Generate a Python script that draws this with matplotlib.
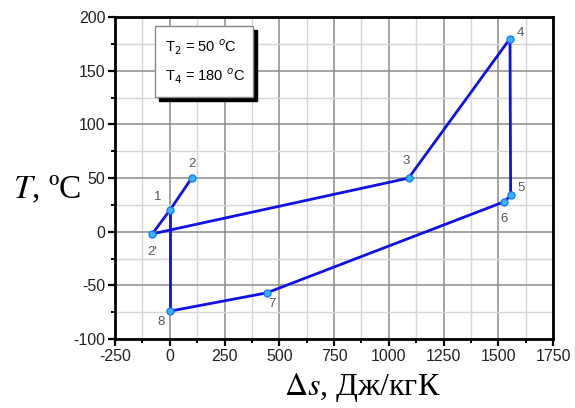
import matplotlib
matplotlib.use('Agg')
import matplotlib.pyplot as plt
from matplotlib.patches import Rectangle
from matplotlib.ticker import MultipleLocator

plt.rcParams['axes.unicode_minus'] = False

# точки цикла (Δs, Дж/кгК ; T, °C)
ds = [100, 0, -80, 1090, 1553, 1556, 1527, 442, 0, 0]
temp = [50, 20, -2, 50, 180, 34, 28, -57, -74, 20]
point_names = ['2', '1', "2'", '3', '4', '5', '6', '7', '8']
# смещения подписей в пикселях
label_offsets = [(0, 14), (-12, 13), (0, -18), (-2, 17), (10, 6), (10, 7), (0, -17), (5, -11), (-9, -11)]

xticks = [-250, 0, 250, 500, 750, 1000, 1250, 1500, 1750]
yticks = [-100, -50, 0, 50, 100, 150, 200]

fig = plt.figure(figsize=(5.75, 4.08), dpi=100)
ax = fig.add_axes([0.2, 0.169, 0.762, 0.789])

ax.set_xlim(-250, 1750)
ax.set_ylim(-100, 200)
ax.xaxis.set_major_locator(MultipleLocator(250))
ax.xaxis.set_minor_locator(MultipleLocator(125))
ax.yaxis.set_major_locator(MultipleLocator(50))
ax.yaxis.set_minor_locator(MultipleLocator(25))
ax.set_xticks(xticks)
ax.set_yticks(yticks)
ax.grid(True, which='major', color='#8c8c8c', linewidth=1.1)
ax.grid(True, which='minor', color='#d6d6d6', linewidth=1.0)
ax.set_axisbelow(True)

for sp in ax.spines.values():
    sp.set_linewidth(2.0)
ax.tick_params(which='major', direction='out', length=5, width=1.6, labelsize=11.5,
               labelcolor='#222222', top=False, right=False, pad=2)
ax.tick_params(which='minor', direction='out', length=3, width=1.4, top=False, right=False)
for lab in ax.get_xticklabels() + ax.get_yticklabels():
    lab.set_fontfamily('Liberation Sans')

# линия цикла
ax.plot(ds[:-1], temp[:-1], color='#1010e8', linewidth=2.0, zorder=3)
ax.plot([ds[-2], ds[-1]], [temp[-2], temp[-1]], color='#1010e8', linewidth=2.0, zorder=3)
ax.plot(ds[:-1], temp[:-1], linestyle='none', marker='o', markersize=5,
        markerfacecolor='#39b4ff', markeredgecolor='#1a7cff', markeredgewidth=1, zorder=4)

for name, x, y, off in zip(point_names, ds, temp, label_offsets):
    ax.annotate(name, (x, y), xytext=off, textcoords='offset pixels',
                ha='center', va='center', fontsize=9.5, color='#555555',
                fontfamily='Liberation Sans')

# рамка с параметрами (с тенью)
bx, by, bw, bh = 0.0913, 0.752, 0.224, 0.220
ax.add_patch(Rectangle((bx + 0.009, by - 0.012), bw, bh, transform=ax.transAxes,
                       facecolor='black', edgecolor='black', zorder=5))
ax.add_patch(Rectangle((bx, by), bw, bh, transform=ax.transAxes,
                       facecolor='white', edgecolor='#888888', linewidth=1, zorder=6))
ax.text(bx + 0.022, by + 0.155, r'T$_2$ = 50 $^{o}$C', transform=ax.transAxes,
        fontsize=10.5, va='center', ha='left', zorder=7, fontfamily='Liberation Sans',
        math_fontfamily='dejavusans')
ax.text(bx + 0.022, by + 0.065, r'T$_4$ = 180 $^{o}$C', transform=ax.transAxes,
        fontsize=10.5, va='center', ha='left', zorder=7, fontfamily='Liberation Sans',
        math_fontfamily='dejavusans')

# подписи осей
fig.text(0.082, 1 - 190 / 408, r'$T$, ºC', fontsize=24, ha='center', va='center',
         fontfamily='Liberation Serif', math_fontfamily='stix')
fig.text(0.63, 1 - 387 / 408, r'$\Delta s$, Дж/кгК', fontsize=23, ha='center', va='center',
         fontfamily='Liberation Serif', math_fontfamily='stix')

fig.savefig('out.png', dpi=100)
